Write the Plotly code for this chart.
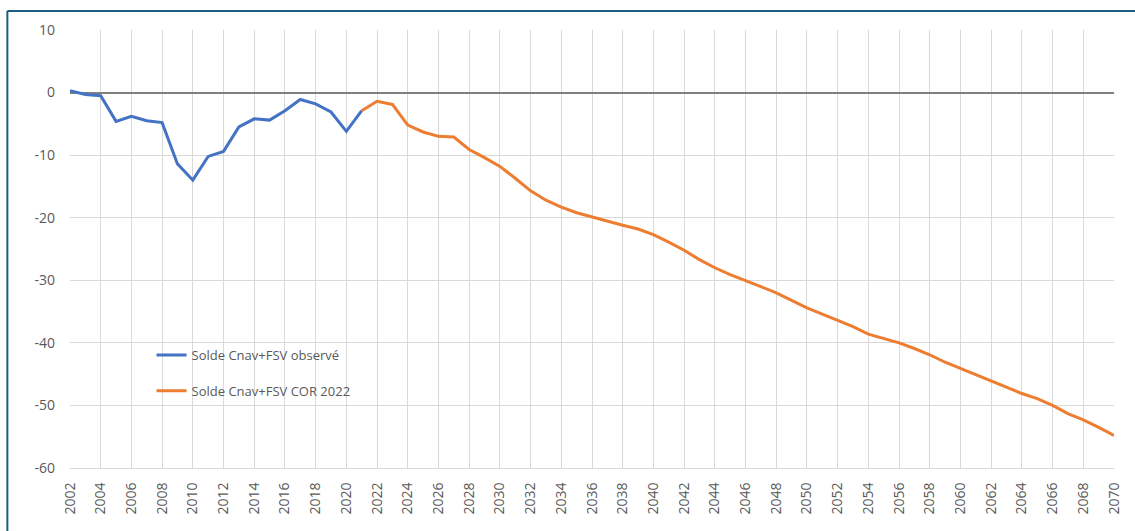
import plotly.graph_objects as go

years_obs = list(range(2002, 2022))
solde_obs = [0.3, -0.3, -0.5, -4.6, -3.8, -4.5, -4.8, -11.4, -14.0, -10.2, -9.4, -5.5, -4.2, -4.4, -2.9, -1.1, -1.8, -3.1, -6.2, -2.9]

years_cor = list(range(2021, 2071))
solde_cor = [-2.9, -1.4, -1.9, -5.2, -6.3, -7.0, -7.1, -9.1, -10.4, -11.8, -13.7, -15.7, -17.2, -18.3, -19.2, -19.9,
             -20.5, -21.2, -21.8, -22.7, -23.9, -25.2, -26.7, -28.0, -29.1, -30.0, -31.0, -32.0, -33.2, -34.4,
             -35.4, -36.4, -37.4, -38.6, -39.3, -40.0, -40.9, -41.9, -43.1, -44.1, -45.0, -46.0, -47.1, -48.1,
             -48.9, -50.0, -51.3, -52.3, -53.5, -54.8]

y_ticks = [10, 0, -10, -20, -30, -40, -50, -60]
y_labels = ["10", "0", "-10", "-20", "-30", "-40", "-50", "-60"]
x_ticks = list(range(2002, 2071, 2))

FONT = "Open Sans"
TXT = "#595959"
GRID = "#d9d9d9"

fig = go.Figure()
fig.add_trace(go.Scatter(x=years_obs, y=solde_obs, mode="lines", name="Solde Cnav+FSV observé",
                         line=dict(color="#4472C4", width=3), legendgroup="a"))
fig.add_trace(go.Scatter(x=years_cor, y=solde_cor, mode="lines", name="Solde Cnav+FSV COR 2022",
                         line=dict(color="#ED7D31", width=3), legendgroup="b"))

W, H = 1135, 531
L, R, T, B = 70, 15, 30, 63
pw, ph = W - L - R, H - T - B

def px(xs):  # screen x -> paper
    return (xs - L) / pw

def py(ys):  # screen y -> paper
    return (H - B - ys) / ph

shapes = [
    dict(type="rect", xref="paper", yref="paper", x0=px(90), x1=px(465), y0=py(410), y1=py(332),
         fillcolor="white", line=dict(width=0), layer="between"),
    dict(type="line", xref="paper", yref="paper", x0=px(7), x1=px(1160), y0=py(11), y1=py(11),
         line=dict(color="#1b5e7e", width=2)),
    dict(type="line", xref="paper", yref="paper", x0=px(7), x1=px(7), y0=py(11), y1=py(560),
         line=dict(color="#1b5e7e", width=2)),
]

fig.update_layout(
    width=W, height=H,
    margin=dict(l=L, r=R, t=T, b=B),
    paper_bgcolor="white", plot_bgcolor="white",
    font=dict(family=FONT, color=TXT, size=13),
    shapes=shapes,
    showlegend=True,
    legend=dict(x=px(152), y=py(340), xanchor="left", yanchor="top", bgcolor="rgba(0,0,0,0)",
                font=dict(size=13, color=TXT, family=FONT), tracegroupgap=16),
    xaxis=dict(range=[2002, 2070], tickvals=x_ticks, ticktext=[str(v) for v in x_ticks],
               tickangle=-90, showgrid=True, gridcolor=GRID, gridwidth=1, zeroline=False,
               showline=True, linecolor=GRID, linewidth=1, mirror=False,
               tickfont=dict(size=14, color=TXT, family=FONT), ticks="", ticklabelstandoff=8),
    yaxis=dict(range=[-60, 10], tickvals=y_ticks, ticktext=y_labels, showgrid=True, gridcolor=GRID,
               gridwidth=1, zeroline=True, zerolinecolor="#808080", zerolinewidth=2,
               showline=False, tickfont=dict(size=14, color=TXT, family=FONT), ticks="",
               ticklabelstandoff=14),
)

fig.write_html("out.html", config={"displayModeBar": False},
               post_script="document.body.style.margin='0';")
